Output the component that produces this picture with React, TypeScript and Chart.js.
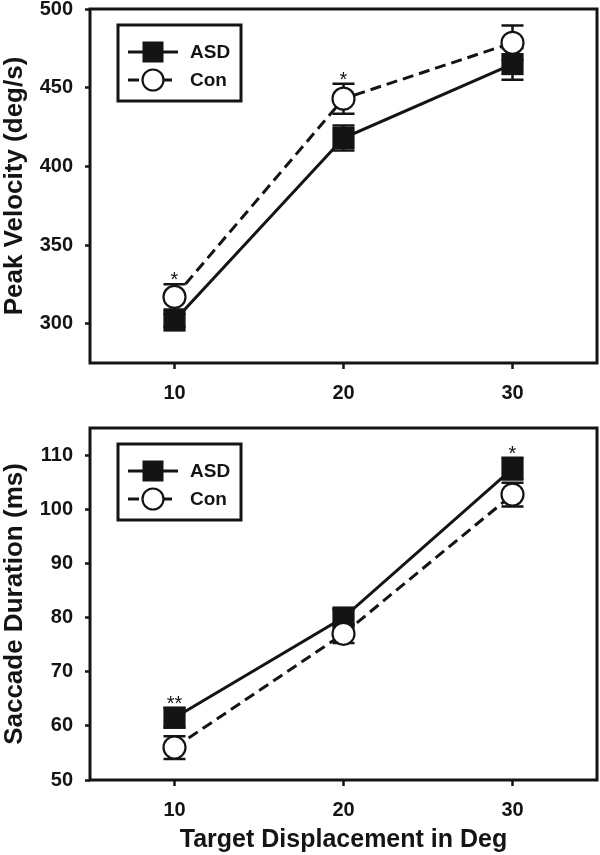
import React, { useEffect, useRef } from 'react';
import { Chart, registerables } from 'chart.js';
Chart.register(...registerables);

// ---------- data ----------
const displacement = [10, 20, 30];
const xTicks = [10, 20, 30];
const seriesNames = ['ASD', 'Con'];
const xTitle = 'Target Displacement in Deg';

const velocityTitle = 'Peak Velocity (deg/s)';
const velocityASD = [302, 418, 465];
const velocityASDErr = [4, 8, 10];
const velocityCon = [317, 443, 478.5];
const velocityConErr = [8, 9.5, 11];
const velocityTicks = [300, 350, 400, 450, 500];
const velocitySigASD = ['', '', ''];
const velocitySigCon = ['*', '*', ''];

const durationTitle = 'Saccade Duration (ms)';
const durationASD = [61.5, 80, 107.5];
const durationASDErr = [1.8, 1.5, 2];
const durationCon = [56, 77, 102.7];
const durationConErr = [2.1, 1.7, 2.2];
const durationTicks = [50, 60, 70, 80, 90, 100, 110];
const durationSigASD = ['**', '', '*'];
const durationSigCon = ['', '', ''];

// ---------- styling ----------
const INK = '#141414';
const FONT = "'Liberation Sans', Arial, Helvetica, sans-serif";

const frameAndExtras = {
  id: 'frameAndExtras',
  beforeDatasetsDraw(chart: any) {
    const ctx = chart.ctx;
    const xs = chart.scales.x;
    const ys = chart.scales.y;
    ctx.save();
    ctx.strokeStyle = INK;
    ctx.lineWidth = 2.5;
    chart.data.datasets.forEach((ds: any) => {
      ds.data.forEach((p: any, i: number) => {
        const e = ds.errors[i];
        const px = xs.getPixelForValue(p.x);
        const t = ys.getPixelForValue(p.y + e);
        const b = ys.getPixelForValue(p.y - e);
        ctx.beginPath();
        ctx.moveTo(px, t);
        ctx.lineTo(px, b);
        ctx.moveTo(px - 11, t);
        ctx.lineTo(px + 11, t);
        ctx.moveTo(px - 11, b);
        ctx.lineTo(px + 11, b);
        ctx.stroke();
      });
    });
    ctx.restore();
  },
  afterDatasetsDraw(chart: any) {
    const ctx = chart.ctx;
    const xs = chart.scales.x;
    const ys = chart.scales.y;
    const a = chart.chartArea;
    ctx.save();
    // significance markers
    ctx.fillStyle = INK;
    ctx.font = `20px ${FONT}`;
    ctx.textAlign = 'center';
    ctx.textBaseline = 'alphabetic';
    chart.data.datasets.forEach((ds: any) => {
      ds.data.forEach((p: any, i: number) => {
        const s = ds.sig[i];
        if (!s) return;
        const px = xs.getPixelForValue(p.x);
        const t = ys.getPixelForValue(p.y + ds.errors[i]);
        ctx.fillText(s, px, t + 2);
      });
    });
    // frame
    ctx.strokeStyle = INK;
    ctx.lineWidth = 3;
    ctx.strokeRect(a.left, a.top, a.right - a.left, a.bottom - a.top);

    // legend
    const bx = a.left + 28;
    const by = a.top + 16;
    ctx.lineWidth = 3;
    ctx.fillStyle = '#fff';
    ctx.fillRect(bx, by, 123, 76);
    ctx.strokeRect(bx, by, 123, 76);
    const rows = [by + 27, by + 55];
    const ds0 = chart.data.datasets[0];
    const ds1 = chart.data.datasets[1];
    // ASD row
    ctx.beginPath();
    ctx.moveTo(a.left + 38, rows[0]);
    ctx.lineTo(a.left + 88, rows[0]);
    ctx.stroke();
    ctx.fillStyle = INK;
    ctx.fillRect(a.left + 63 - 10.5, rows[0] - 10.5, 21, 21);
    // Con row
    ctx.beginPath();
    ctx.moveTo(a.left + 38, rows[1]);
    ctx.lineTo(a.left + 49, rows[1]);
    ctx.moveTo(a.left + 73, rows[1]);
    ctx.lineTo(a.left + 82, rows[1]);
    ctx.stroke();
    ctx.beginPath();
    ctx.arc(a.left + 63, rows[1], 10.5, 0, Math.PI * 2);
    ctx.fillStyle = '#fff';
    ctx.fill();
    ctx.lineWidth = 2.2;
    ctx.stroke();
    ctx.fillStyle = INK;
    ctx.font = `bold 19px ${FONT}`;
    ctx.textAlign = 'left';
    ctx.textBaseline = 'middle';
    ctx.fillText(ds0.label, a.left + 100, rows[0] + 1);
    ctx.fillText(ds1.label, a.left + 100, rows[1] + 1);
    ctx.restore();
  },
};

type PanelSpec = {
  asd: number[];
  asdErr: number[];
  asdSig: string[];
  con: number[];
  conErr: number[];
  conSig: string[];
  yMin: number;
  yMax: number;
  yTicks: number[];
  yTitle: string;
  showXTitle: boolean;
  padTop: number;
  xHeight: number;
};

function makeConfig(p: PanelSpec): any {
  const tickFont = { family: FONT, weight: 'bold', size: 20 };
  return {
    type: 'line',
    data: {
      datasets: [
        {
          label: seriesNames[0],
          data: displacement.map((x, i) => ({ x, y: p.asd[i] })),
          errors: p.asdErr,
          sig: p.asdSig,
          order: 2,
          borderColor: INK,
          borderWidth: 3,
          tension: 0,
          pointStyle: 'rect',
          pointRadius: 15.7,
          pointHoverRadius: 15.7,
          pointBackgroundColor: INK,
          pointBorderColor: INK,
          pointBorderWidth: 0,
        },
        {
          label: seriesNames[1],
          data: displacement.map((x, i) => ({ x, y: p.con[i] })),
          errors: p.conErr,
          sig: p.conSig,
          order: 1,
          borderColor: INK,
          borderWidth: 3,
          borderDash: [11, 6],
          tension: 0,
          pointStyle: 'circle',
          pointRadius: 11,
          pointHoverRadius: 11,
          pointBackgroundColor: '#fff',
          pointBorderColor: INK,
          pointBorderWidth: 2.2,
        },
      ],
    },
    options: {
      animation: false,
      responsive: false,
      events: [],
      layout: { autoPadding: false, padding: { top: p.padTop, right: 3, left: 0, bottom: 0 } },
      plugins: { legend: { display: false }, tooltip: { enabled: false } },
      scales: {
        x: {
          type: 'linear',
          min: 5,
          max: 35,
          afterBuildTicks: (s: any) => {
            s.ticks = xTicks.map((v) => ({ value: v }));
          },
          afterFit: (s: any) => {
            s.height = p.xHeight;
            s.paddingLeft = 0;
            s.paddingRight = 0;
          },
          border: { display: false },
          grid: { drawOnChartArea: false, drawTicks: true, tickLength: 6, tickWidth: 2.5, tickColor: INK },
          ticks: { padding: 12, color: INK, font: tickFont, maxRotation: 0, autoSkip: false },
          title: {
            display: p.showXTitle,
            text: xTitle,
            color: INK,
            font: { family: FONT, weight: 'bold', size: 25 },
            padding: { top: 0, bottom: 0 },
          },
        },
        y: {
          type: 'linear',
          min: p.yMin,
          max: p.yMax,
          afterBuildTicks: (s: any) => {
            s.ticks = p.yTicks.map((v) => ({ value: v }));
          },
          afterFit: (s: any) => {
            s.width = 90;
            s.paddingTop = 0;
            s.paddingBottom = 0;
          },
          border: { display: false },
          grid: { drawOnChartArea: false, drawTicks: true, tickLength: 5, tickWidth: 2.5, tickColor: INK },
          ticks: { padding: 12, color: INK, font: tickFont, autoSkip: false },
          title: {
            display: true,
            text: p.yTitle,
            color: INK,
            font: { family: FONT, weight: 'bold', size: 26 },
            padding: { top: -1, bottom: 0 },
          },
        },
      },
    },
    plugins: [frameAndExtras],
  };
}

function Panel({ spec, height }: { spec: PanelSpec; height: number }) {
  const ref = useRef<HTMLCanvasElement>(null);
  useEffect(() => {
    const chart = new Chart(ref.current as HTMLCanvasElement, makeConfig(spec));
    return () => chart.destroy();
  }, []);
  return <canvas ref={ref} width={600} height={height} style={{ display: 'block', width: 600, height }} />;
}

export default function App() {
  const top: PanelSpec = {
    asd: velocityASD,
    asdErr: velocityASDErr,
    asdSig: velocitySigASD,
    con: velocityCon,
    conErr: velocityConErr,
    conSig: velocitySigCon,
    yMin: 275,
    yMax: 500,
    yTicks: velocityTicks,
    yTitle: velocityTitle,
    showXTitle: false,
    padTop: 9,
    xHeight: 42,
  };
  const bottom: PanelSpec = {
    asd: durationASD,
    asdErr: durationASDErr,
    asdSig: durationSigASD,
    con: durationCon,
    conErr: durationConErr,
    conSig: durationSigCon,
    yMin: 50,
    yMax: 115,
    yTicks: durationTicks,
    yTitle: durationTitle,
    showXTitle: true,
    padTop: 23,
    xHeight: 75,
  };
  return (
    <div style={{ position: 'fixed', left: 0, top: 0, width: 600, height: 855, background: '#fff' }}>
      <Panel spec={top} height={405} />
      <Panel spec={bottom} height={450} />
    </div>
  );
}
